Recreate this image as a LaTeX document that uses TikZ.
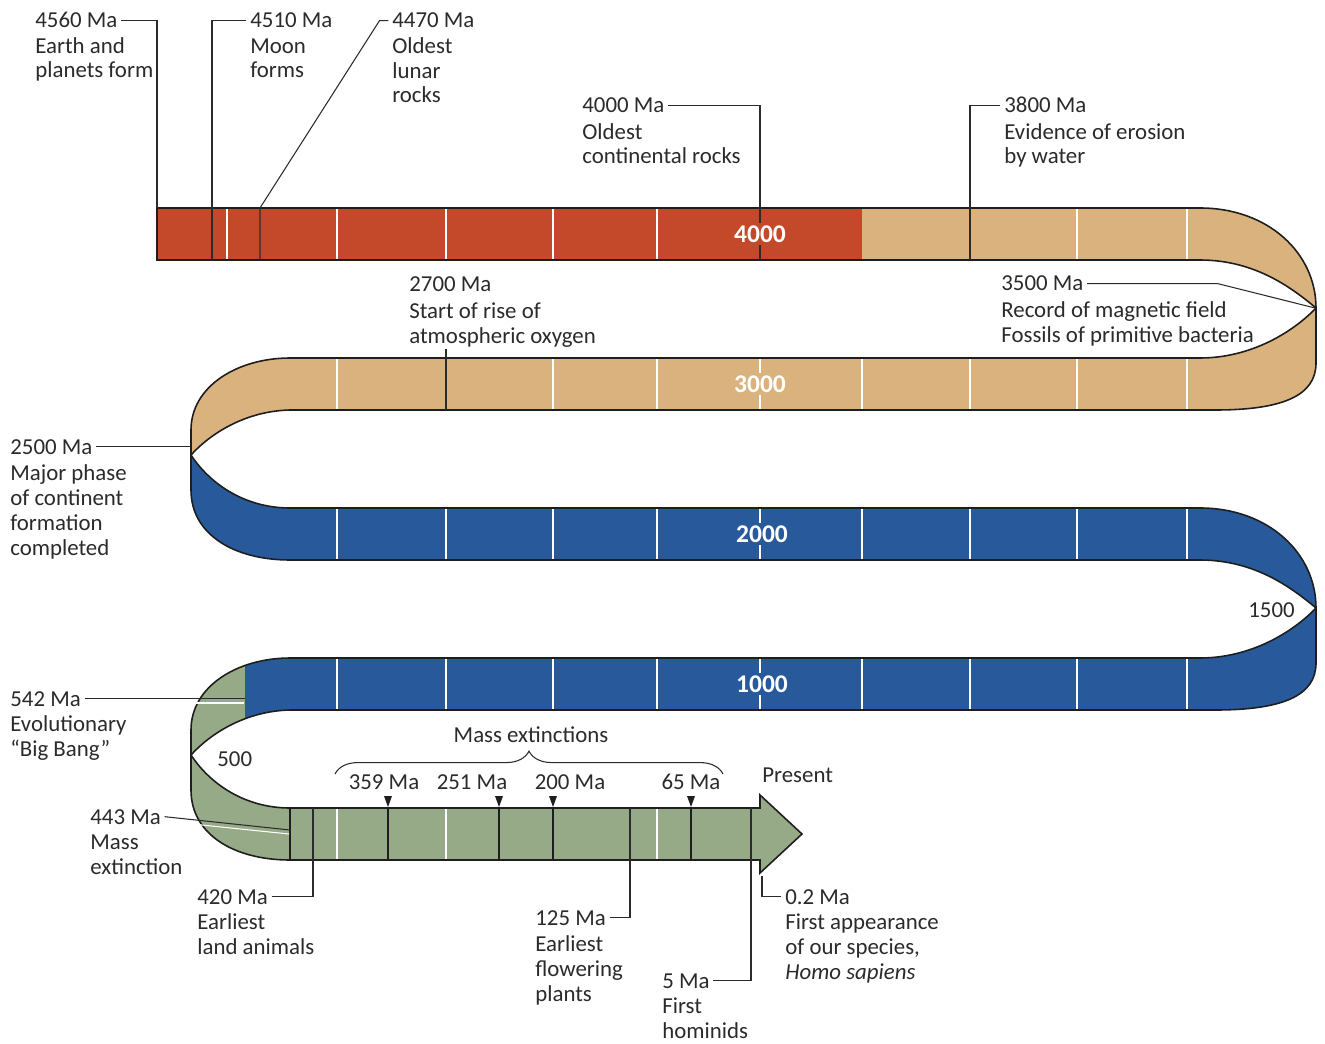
\documentclass[tikz,border=0pt]{standalone}
\usepackage{fontspec}
\setmainfont{Carlito}
\usetikzlibrary{decorations.pathreplacing,calc}
\definecolor{cred}{HTML}{C4482A}
\definecolor{ctan}{HTML}{DAB27D}
\definecolor{cblue}{HTML}{285A9B}
\definecolor{cgreen}{HTML}{96AA87}
\definecolor{txt}{HTML}{2B2B2B}
\definecolor{edge}{HTML}{1E1E1E}
\tikzset{
 Rup/.style={insert path={(1200,#1) .. controls (1268,#1) and (1316,{#1+45}) .. (1316,{#1+100}) .. controls (1292,{#1+80}) and (1255,{#1+52}) .. (1200,{#1+52}) -- cycle}},
 Rlow/.style={insert path={(1316,{#1+100}) -- (1316,{#1+155}) .. controls (1316,{#1+188}) and (1282,{#1+202}) .. (1215,{#1+202}) -- (1200,{#1+202}) -- (1200,{#1+150}) .. controls (1250,{#1+150}) and (1292,{#1+125}) .. (1316,{#1+100}) -- cycle}},
 Rout/.style={insert path={(1200,#1) .. controls (1268,#1) and (1316,{#1+45}) .. (1316,{#1+100}) -- (1316,{#1+155}) .. controls (1316,{#1+188}) and (1282,{#1+202}) .. (1215,{#1+202}) -- (1200,{#1+202})}},
 Rin/.style={insert path={(1200,{#1+52}) .. controls (1255,{#1+52}) and (1292,{#1+80}) .. (1316,{#1+100}) .. controls (1292,{#1+125}) and (1250,{#1+150}) .. (1200,{#1+150})}},
 Lup/.style={insert path={(290,#1) .. controls (238,#1) and (191,{#1+28}) .. (191,{#1+72}) -- (191,{#1+97}) .. controls (210,{#1+76}) and (245,{#1+53}) .. (290,{#1+52}) -- cycle}},
 Llow/.style={insert path={(191,{#1+97}) -- (191,{#1+132}) .. controls (191,{#1+177}) and (235,{#1+202}) .. (290,{#1+202}) -- (290,{#1+150}) .. controls (245,{#1+150}) and (210,{#1+126}) .. (191,{#1+97}) -- cycle}},
 Lout/.style={insert path={(290,#1) .. controls (238,#1) and (191,{#1+28}) .. (191,{#1+72}) -- (191,{#1+132}) .. controls (191,{#1+177}) and (235,{#1+202}) .. (290,{#1+202})}},
 Lin/.style={insert path={(290,{#1+52}) .. controls (245,{#1+53}) and (210,{#1+76}) .. (191,{#1+97}) .. controls (210,{#1+126}) and (245,{#1+150}) .. (290,{#1+150})}},
}
\begin{document}
\begin{tikzpicture}[x=0.02cm,y=-0.02cm,
 lbl/.style={font=\fontsize{13}{14.2}\selectfont, text=txt, align=left, inner sep=0pt, anchor=base west},
 clbl/.style={font=\fontsize{13}{14.2}\selectfont, text=txt, inner sep=0pt, anchor=base},
 bandlbl/.style={font=\fontsize{14.5}{15}\selectfont\bfseries, text=white, inner sep=1.5pt},
 lead/.style={draw=txt, line width=0.6pt},
 tickw/.style={draw=white, line width=0.9pt},
 tickd/.style={draw=edge, line width=0.6pt},
 outline/.style={draw=edge, line width=0.9pt},
 extmark/.style={fill=edge},
]
\path[use as bounding box, fill=white] (0,0) rectangle (1325,1044);

% ---- loops ----
\fill[ctan, Rup=208]; \fill[ctan, Rlow=208];
\fill[ctan, Lup=358]; \fill[cblue, Llow=358];
\fill[cblue, Rup=508]; \fill[cblue, Rlow=508];
\fill[cgreen, Lup=658]; \fill[cgreen, Llow=658];
\begin{scope}
 \clip (245,600) rectangle (300,720);
 \fill[cblue, Lup=658];
\end{scope}

% ---- straight bands ----
\fill[cred] (157,208) rectangle (862,260);
\fill[ctan] (862,208) rectangle (1201,260);
\fill[ctan] (289,358) rectangle (1201,410);
\fill[cblue] (289,508) rectangle (1201,560);
\fill[cblue] (289,658) rectangle (1201,710);
\fill[cgreen] (289,808) -- (760,808) -- (760,795) -- (802,834) -- (760,873) -- (760,860) -- (289,860) -- cycle;

% ---- white ticks ----
\foreach \x in {227,337,446,553,657,1077,1187} \draw[tickw] (\x,209) -- (\x,259);
\foreach \x in {337,553,657,760,862,970,1077,1187} \draw[tickw] (\x,359) -- (\x,409);
\foreach \x in {337,446,553,657,760,862,970,1077,1187} \draw[tickw] (\x,509) -- (\x,559);
\foreach \x in {337,446,553,657,760,862,970,1077,1187} \draw[tickw] (\x,659) -- (\x,709);
\foreach \x in {337,446,657} \draw[tickw] (\x,809) -- (\x,859);

% ---- dark event lines in the last band ----
\foreach \x in {290,388,499,553,691} \draw[tickd] (\x,808) -- (\x,860);

% ---- outlines ----
\draw[outline] (1200,208) -- (157,208) -- (157,260) -- (1200,260);
\draw[outline, Rout=208]; \draw[outline, Rin=208];
\draw[outline] (290,358) -- (1200,358) (290,410) -- (1200,410);
\draw[outline, Lout=358]; \draw[outline, Lin=358];
\draw[outline] (290,508) -- (1200,508) (290,560) -- (1200,560);
\draw[outline, Rout=508]; \draw[outline, Rin=508];
\draw[outline] (290,658) -- (1200,658) (290,710) -- (1200,710);
\draw[outline, Lout=658]; \draw[outline, Lin=658];
\draw[outline] (290,808) -- (760,808) -- (760,795) -- (802,834) -- (760,873) -- (760,860) -- (290,860);

% ---- named end points ----
\coordinate (c4560) at (157,208);
\coordinate (c4510) at (212,260);
\coordinate (k4470) at (260,208);
\coordinate (c4470) at (260,260);
\coordinate (c4000) at (760,260);
\coordinate (c3800) at (970,260);
\coordinate (c3500) at (1315,308);
\coordinate (c2700) at (446,410);
\coordinate (c2500) at (191,450);
\coordinate (c542) at (245,700);
\coordinate (c443) at (290,830);
\coordinate (c420) at (313,808);
\coordinate (c125) at (630,808);
\coordinate (c5) at (751,808);
\coordinate (c02) at (762,876);

% ---- labels (body nodes are placed by the baseline of their last line) ----
\node[lbl] (h4560) at (35,28) {4560 Ma};
\node[lbl] (b4560) at (35,78) {Earth and\\planets form};
\node[lbl] (h4510) at (250,28) {4510 Ma};
\node[lbl] (b4510) at (250,78) {Moon\\forms};
\node[lbl] (h4470) at (392,28) {4470 Ma};
\node[lbl] (b4470) at (392,103) {Oldest\\lunar\\rocks};
\node[lbl] (h4000) at (582,113) {4000 Ma};
\node[lbl] (b4000) at (582,164) {Oldest\\continental rocks};
\node[lbl] (h3800) at (1004,113) {3800 Ma};
\node[lbl] (b3800) at (1004,164) {Evidence of erosion\\by water};
\node[lbl] (h3500) at (1001,291) {3500 Ma};
\node[lbl] (b3500) at (1001,342) {Record of magnetic field\\Fossils of primitive bacteria};
\node[lbl] (h2700) at (409,292) {2700 Ma};
\node[lbl] (b2700) at (409,343) {Start of rise of\\atmospheric oxygen};
\node[lbl] (h2500) at (10,454) {2500 Ma};
\node[lbl] (b2500) at (10,555) {Major phase\\of continent\\formation\\completed};
\node[lbl] (h542) at (10,706) {542 Ma};
\node[lbl] (b542) at (10,756) {Evolutionary\\“Big Bang”};
\node[lbl] (h443) at (90,824) {443 Ma};
\node[lbl] (b443) at (90,874) {Mass\\extinction};
\node[lbl] (h420) at (197,904) {420 Ma};
\node[lbl] (b420) at (197,954) {Earliest\\land animals};
\node[lbl] (h125) at (535,925) {125 Ma};
\node[lbl] (b125) at (535,1001) {Earliest\\flowering\\plants};
\node[lbl] (h5) at (662,988) {5 Ma};
\node[lbl] (b5) at (662,1038) {First\\hominids};
\node[lbl] (h02) at (785,904) {0.2 Ma};
\node[lbl] (b02) at (785,979) {First appearance\\of our species,\\\textit{Homo sapiens}};
\node[clbl] (mext) at (531,742) {Mass extinctions};
\node[clbl] (m359) at (384,789) {359 Ma};
\node[clbl] (m251) at (472,789) {251 Ma};
\node[clbl] (m200) at (570,789) {200 Ma};
\node[clbl] (m65) at (691,789) {65 Ma};
\node[lbl] (pres) at (762,782) {Present};
\node[clbl, anchor=base east] (n1500) at (1295,617) {1500};
\node[lbl] (n500) at (217,766) {500};

% ---- leaders ----
\draw[lead] ([xshift=2pt]h4560.east) -| (c4560);
\draw[lead] ([xshift=-2pt]h4510.west) -| (c4510);
\draw[lead] ([xshift=-2pt]h4470.west) -- ++(-9,0) -- (k4470) -- (c4470);
\draw[lead] ([xshift=2pt]h4000.east) -| (c4000);
\draw[lead] ([xshift=-2pt]h3800.west) -| (c3800);
\draw[lead] ([xshift=2pt]h3500.east) -- (1218,0 |- h3500.east) -- (c3500);
\draw[lead] ([yshift=-1pt]b2700.south -| c2700) -- (c2700);
\draw[lead] ([xshift=2pt]h2500.east) -- (h2500.east -| c2500);
\draw[lead] ([xshift=2pt]h542.east) -- (h542.east -| c542);
\draw[white, line width=0.6pt] (194,703) -- (244,703);
\draw[lead] ([xshift=2pt]h443.east) -- (c443);
\draw[white, line width=0.6pt] (192,824) -- (289,834);
\draw[lead] ([xshift=2pt]h420.east) -| (c420);
\draw[lead] ([xshift=2pt]h125.east) -| (c125);
\draw[lead] ([xshift=2pt]h5.east) -| (c5);
\draw[lead] ([xshift=-2pt]h02.west) -| (c02);

% ---- band labels ----
\node[bandlbl, fill=cred] (y4000) at (760,234) {4000};
\node[bandlbl, fill=ctan] (y3000) at (760,384) {3000};
\node[bandlbl, fill=cblue] (y2000) at (762,534) {2000};
\node[bandlbl, fill=cblue] (y1000) at (762,684) {1000};

% ---- extinction markers and brace ----
\foreach \x in {388,499,553,691} \fill[extmark] (\x-4,796) -- (\x+4,796) -- (\x,807) -- cycle;
\draw[lead, decorate, decoration={brace, amplitude=13pt}] (335,774) -- (723,774);
\end{tikzpicture}
\end{document}
